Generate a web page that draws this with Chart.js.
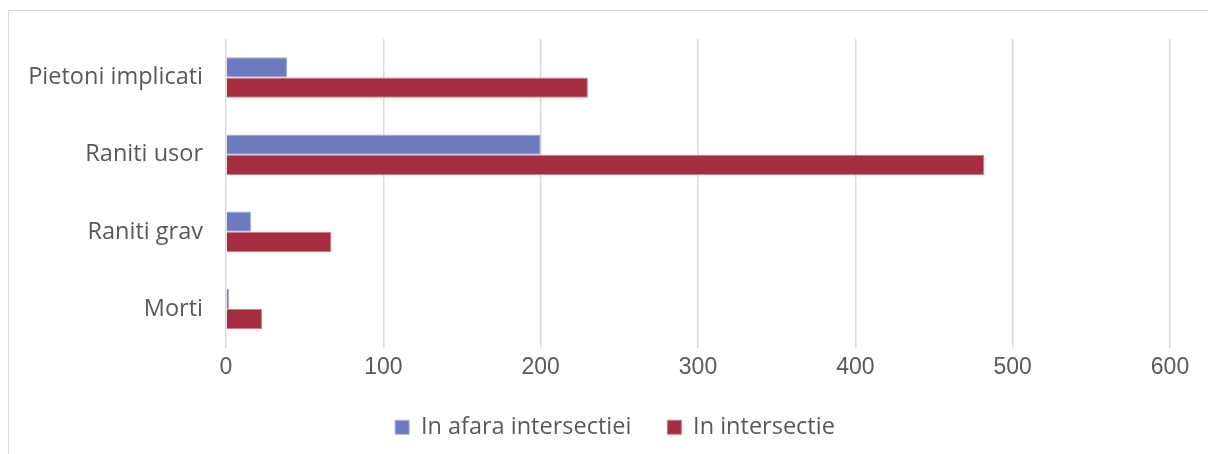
<!DOCTYPE html>
<html>
<head>
<meta charset="utf-8">
<script src="https://cdn.jsdelivr.net/npm/chart.js@4/dist/chart.umd.min.js"></script>
<style>
    body { margin: 0; background: #fff; overflow: hidden; }
    #frame {
        position: absolute;
        left: 8px;
        top: 10px;
        width: 1400px;
        height: 600px;
        border-left: 1.5px solid #d9d9d9;
        border-top: 1.5px solid #d9d9d9;
    }
    #wrap { position: absolute; left: 0; top: 0; width: 1208px; height: 454px; }
</style>
</head>
<body>
<div id="frame"></div>
<div id="wrap"><canvas id="accidentChart"></canvas></div>
<script>
// Data
const categories = ['Pietoni implicati', 'Raniti usor', 'Raniti grav', 'Morti'];
const outsideValues = [39, 200, 16, 2];
const insideValues = [230, 482, 67, 23];
const xTicks = [0, 100, 200, 300, 400, 500, 600];
const seriesNames = ['In afara intersectiei', 'In intersectie'];

document.addEventListener("DOMContentLoaded", () => {
    drawChart();
});

// The legend in the original sits a bit right of the canvas centre
const legendShift = {
    id: 'legendShift',
    afterLayout(chart) {
        if (chart.legend) {
            chart.legend.left += 30;
            chart.legend.right += 30;
        }
    }
};

function drawChart() {
    const ctx = document.getElementById('accidentChart').getContext('2d');

    window.accidentChart = new Chart(ctx, {
        type: 'bar',
        data: {
            labels: categories,
            datasets: [{
                label: seriesNames[0],
                data: outsideValues,
                backgroundColor: '#6d7abd',
                borderColor: '#aab2dc',
                borderWidth: 1,
                barPercentage: 1,
                categoryPercentage: 0.526
            }, {
                label: seriesNames[1],
                data: insideValues,
                backgroundColor: '#a52d3f',
                borderColor: '#cf7c88',
                borderWidth: 1,
                barPercentage: 1,
                categoryPercentage: 0.526
            }]
        },
        options: {
            indexAxis: 'y', // horizontal bars
            responsive: true,
            maintainAspectRatio: false,
            animation: false,
            layout: {
                padding: { top: 39, right: 38, bottom: 5, left: 0 }
            },
            plugins: {
                tooltip: { enabled: false },
                legend: {
                    position: 'bottom',
                    labels: {
                        boxWidth: 14,
                        boxHeight: 14,
                        padding: 36,
                        color: '#595959',
                        font: { family: "'Open Sans'", size: 23.5 }
                    }
                }
            },
            scales: {
                x: {
                    min: 0,
                    max: 600,
                    afterBuildTicks: axis => {
                        axis.ticks = xTicks.map(v => ({ value: v }));
                    },
                    afterFit: axis => { axis.height = 32; },
                    grid: {
                        color: '#d9d9d9',
                        lineWidth: 1.5,
                        drawTicks: false
                    },
                    border: { display: false },
                    ticks: {
                        padding: 6,
                        color: '#595959',
                        font: { family: "'Liberation Sans'", size: 23 }
                    }
                },
                y: {
                    afterFit: axis => { axis.width = 226; },
                    grid: { display: false, drawTicks: false },
                    border: { display: false },
                    ticks: {
                        padding: 23,
                        color: '#595959',
                        font: { family: "'Open Sans'", size: 23.5 }
                    }
                }
            }
        },
        plugins: [legendShift]
    });
}
</script>
</body>
</html>
